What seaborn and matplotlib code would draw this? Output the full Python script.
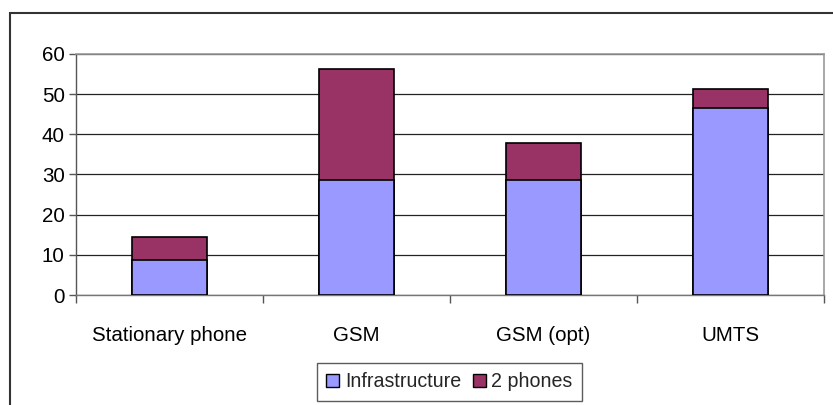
import pandas as pd
import numpy as np
import matplotlib.pyplot as plt
import seaborn as sns
from matplotlib.patches import Rectangle, Patch

categories = ["Stationary phone", "GSM", "GSM (opt)", "UMTS"]
infrastructure = [8.7, 28.6, 28.6, 46.6]
two_phones = [5.7, 27.7, 9.3, 4.8]
y_ticks = [0, 10, 20, 30, 40, 50, 60]

sns.set_theme(style="white")
plt.rcParams['font.family'] = ['Liberation Sans', 'DejaVu Sans']

df = pd.DataFrame({
    "category": categories,
    "Infrastructure": infrastructure,
    "2 phones": two_phones,
})
df["total"] = df["Infrastructure"] + df["2 phones"]

fig = plt.figure(figsize=(8.33, 4.05), dpi=100)
ax = fig.add_axes([0.0912, 0.2716, 0.8978, 0.5951])

c_infra = "#9999FF"
c_phones = "#993366"

sns.barplot(data=df, x="category", y="total", color=c_phones, width=0.4,
            edgecolor="black", linewidth=1.2, saturation=1, ax=ax, zorder=3)
sns.barplot(data=df, x="category", y="Infrastructure", color=c_infra, width=0.4,
            edgecolor="black", linewidth=1.2, saturation=1, ax=ax, zorder=3)

ax.set_xlim(-0.5, 3.5)
ax.set_ylim(0, 60)
ax.set_yticks(y_ticks)
ax.set_xlabel("")
ax.set_ylabel("")

ax.yaxis.grid(True, color="#222222", linewidth=0.9)
ax.set_axisbelow(True)
for s in ["top", "right"]:
    ax.spines[s].set_color("#999999")
    ax.spines[s].set_linewidth(1.2)
ax.spines["left"].set_color("#555555")
ax.spines["bottom"].set_color("#777777")
ax.spines["left"].set_linewidth(1.0)
ax.spines["bottom"].set_linewidth(1.0)

ax.tick_params(axis="y", which="major", length=5, width=1, color="#555555",
               left=True, labelsize=14.8, pad=3, labelcolor="black")
ax.tick_params(axis="x", which="major", length=0, labelsize=14.8, pad=22,
               labelcolor="black")
ax.set_xticks(np.arange(-0.5, 4.0, 1.0), minor=True)
ax.tick_params(axis="x", which="minor", length=6, width=1, color="#555555",
               bottom=True)

handles = [Patch(facecolor=c_infra, edgecolor="black", label="Infrastructure"),
           Patch(facecolor=c_phones, edgecolor="black", label="2 phones")]
leg = fig.legend(handles=handles, loc="center", bbox_to_anchor=(0.5396, 0.057),
                 ncol=2, fontsize=14.1, frameon=True, fancybox=False,
                 handlelength=0.65, handleheight=0.65, handletextpad=0.3,
                 columnspacing=0.6, borderpad=0.5)
leg.get_frame().set_edgecolor("#333333")
leg.get_frame().set_linewidth(1.0)

fig.patches.append(Rectangle((10 / 833, -0.5), 2.0, 1.5 - 13 / 405,
                             transform=fig.transFigure, fill=False,
                             edgecolor="#333333", linewidth=1.5))

fig.savefig("out.png", dpi=100)
